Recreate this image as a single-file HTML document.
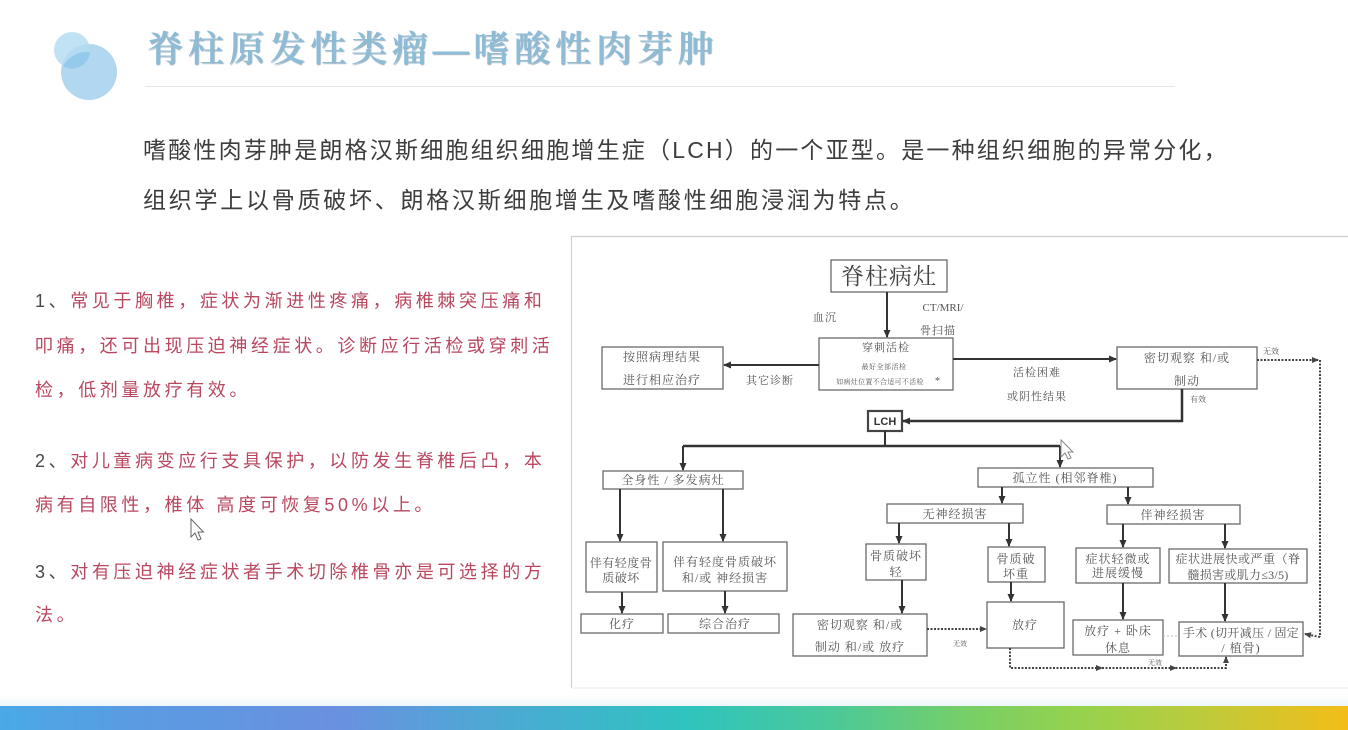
<!DOCTYPE html>
<html>
<head>
<meta charset="utf-8">
<style>
  html,body{margin:0;padding:0;}
  body{width:1348px;height:730px;position:relative;overflow:hidden;background:#fff;
       font-family:"Liberation Sans","Noto Sans CJK SC",sans-serif;}
  .abs{position:absolute;white-space:nowrap;}
  .title{left:147px;top:27px;font-size:36px;line-height:44px;letter-spacing:4.8px;
         font-family:"Liberation Serif","Noto Serif CJK SC",serif;font-weight:600;
         color:#8dbcd6;text-shadow:1px 1px 1px rgba(70,110,140,0.55);}
  .intro{left:143px;font-size:23px;line-height:28px;color:#3d3d3d;}
  .li{left:35px;font-size:18px;line-height:22px;letter-spacing:3.6px;color:#b8475f;}
  .li .n{color:#4a4a4a;}
  .bar{left:0;top:706px;width:1348px;height:24px;
       background:linear-gradient(to right,#4aa9e6 0%,#5a9be2 10%,#6a90e0 25%,#55a2d8 33%,#3fb4cc 43%,#2fc4be 51%,#4cc998 62%,#78cf66 72%,#96d24e 80%,#bccb3c 89%,#f3bd18 100%);}
  .glow{left:0;top:696px;width:1348px;height:10px;
        background:linear-gradient(to bottom,rgba(255,255,255,0),rgba(235,245,250,0.9));}
</style>
</head>
<body>

<!-- decorative circles -->
<svg class="abs" style="left:0;top:0" width="200" height="120">
  <circle cx="89" cy="72" r="28" fill="#a9d3f0" opacity="0.9"/>
  <circle cx="72" cy="50" r="18" fill="#b6dcf3" opacity="0.85"/>
  <path d="M63,66 A18,18 0 0 0 90,52 A28,28 0 0 0 63,66 Z" fill="#8cc5ea" opacity="0.8"/>
</svg>

<div class="abs title">脊柱原发性类瘤—嗜酸性肉芽肿</div>
<div class="abs" style="left:145px;top:86px;width:1030px;height:1px;background:#e6e6e6;"></div>

<div class="abs intro" style="top:136px;letter-spacing:2.2px;">嗜酸性肉芽肿是朗格汉斯细胞组织细胞增生症（LCH）的一个亚型。是一种组织细胞的异常分化，</div>
<div class="abs intro" style="top:186px;letter-spacing:2.75px;">组织学上以骨质破坏、朗格汉斯细胞增生及嗜酸性细胞浸润为特点。</div>

<div class="abs li" style="top:290px;"><span class="n">1、</span>常见于胸椎，症状为渐进性疼痛，病椎棘突压痛和</div>
<div class="abs li" style="top:335px;">叩痛，还可出现压迫神经症状。诊断应行活检或穿刺活</div>
<div class="abs li" style="top:379px;">检，低剂量放疗有效。</div>
<div class="abs li" style="top:450px;"><span class="n">2、</span>对儿童病变应行支具保护，以防发生脊椎后凸，本</div>
<div class="abs li" style="top:494px;">病有自限性，椎体 高度可恢复50%以上。</div>
<div class="abs li" style="top:561px;"><span class="n">3、</span>对有压迫神经症状者手术切除椎骨亦是可选择的方</div>
<div class="abs li" style="top:604px;">法。</div>

<div class="abs glow"></div>
<div class="abs bar"></div>

<svg class="abs" style="left:0;top:0" width="1348" height="730">
  <defs>
    <marker id="a" markerUnits="userSpaceOnUse" markerWidth="8" markerHeight="8" refX="7" refY="4" orient="auto">
      <path d="M0,0.5 L8,4 L0,7.5 z" fill="#333"/>
    </marker>
    <marker id="s" markerUnits="userSpaceOnUse" markerWidth="7" markerHeight="7" refX="6" refY="3.5" orient="auto">
      <path d="M0,0.5 L7,3.5 L0,6.5 z" fill="#444"/>
    </marker>
  </defs>

  <!-- cursor in left text -->
  <path d="M191,519 L191,537 L195,533 L198,540 L201,539 L198,532 L203.5,532 Z" fill="#fff" stroke="#666" stroke-width="1"/>

  <!-- flowchart frame -->
  <path d="M571.5,688 V236.5 H1348" stroke="#cfcfcf" stroke-width="1.2" fill="none"/>
  <line x1="571" y1="688" x2="1348" y2="688" stroke="#ececec" stroke-width="1"/>

  <g fill="#fff" stroke="#6a6a6a" stroke-width="1.3">
    <rect x="831" y="260" width="116" height="32"/>
    <rect x="819" y="338" width="134" height="52"/>
    <rect x="602" y="347" width="121" height="42"/>
    <rect x="1117" y="347" width="140" height="42"/>
    <rect x="868" y="411" width="34" height="20" stroke="#444" stroke-width="2.2"/>
    <rect x="603" y="471" width="140" height="18"/>
    <rect x="586" y="542" width="71" height="50"/>
    <rect x="663" y="542" width="124" height="49"/>
    <rect x="581" y="614" width="82" height="19"/>
    <rect x="668" y="614" width="111" height="19"/>
    <rect x="978" y="468" width="175" height="19"/>
    <rect x="887" y="504" width="136" height="19"/>
    <rect x="1107" y="505" width="133" height="19"/>
    <rect x="866" y="544" width="60" height="36"/>
    <rect x="988" y="547" width="57" height="35"/>
    <rect x="793" y="614" width="134" height="42"/>
    <rect x="987" y="602" width="77" height="46"/>
    <rect x="1076" y="548" width="84" height="35"/>
    <rect x="1169" y="549" width="138" height="34"/>
    <rect x="1073" y="620" width="90" height="35"/>
    <rect x="1179" y="622" width="124" height="34"/>
  </g>

  <!-- solid connectors -->
  <g stroke="#333" stroke-width="2" fill="none">
    <line x1="887" y1="292" x2="887" y2="337" marker-end="url(#a)"/>
    <line x1="819" y1="365" x2="724" y2="365" marker-end="url(#a)"/>
    <line x1="953" y1="359" x2="1116" y2="359" marker-end="url(#a)"/>
    <path d="M1182,389 V421 H903" stroke-width="2.5" marker-end="url(#a)"/>
    <line x1="885" y1="431" x2="885" y2="446"/>
    <line x1="683" y1="446" x2="1060" y2="446" stroke-width="2.5"/>
    <line x1="683" y1="446" x2="683" y2="470" marker-end="url(#a)"/>
    <line x1="1060" y1="446" x2="1060" y2="467" marker-end="url(#a)"/>
    <line x1="620" y1="489" x2="620" y2="541" marker-end="url(#a)"/>
    <line x1="723" y1="489" x2="723" y2="541" marker-end="url(#a)"/>
    <line x1="622" y1="592" x2="622" y2="613" marker-end="url(#a)"/>
    <line x1="725" y1="591" x2="725" y2="613" marker-end="url(#a)"/>
    <line x1="1002" y1="487" x2="1002" y2="503" marker-end="url(#a)"/>
    <line x1="1128" y1="487" x2="1128" y2="504" marker-end="url(#a)"/>
    <line x1="899" y1="523" x2="899" y2="543" marker-end="url(#a)"/>
    <line x1="1009" y1="523" x2="1009" y2="546" marker-end="url(#a)"/>
    <line x1="902" y1="580" x2="902" y2="613" marker-end="url(#a)"/>
    <line x1="1011" y1="582" x2="1011" y2="601" marker-end="url(#a)"/>
    <line x1="1123" y1="524" x2="1123" y2="547" marker-end="url(#a)"/>
    <line x1="1225" y1="524" x2="1225" y2="548" marker-end="url(#a)"/>
    <line x1="1123" y1="583" x2="1123" y2="619" marker-end="url(#a)"/>
    <line x1="1225" y1="583" x2="1225" y2="621" marker-end="url(#a)"/>
  </g>

  <!-- dotted connectors -->
  <g stroke="#444" stroke-width="2" fill="none" stroke-dasharray="2,1.5">
    <line x1="1257" y1="360" x2="1318" y2="360" marker-end="url(#s)"/>
    <line x1="1320" y1="360" x2="1320" y2="637"/>
    <line x1="1320" y1="637" x2="1305" y2="634" marker-end="url(#s)"/>
    <line x1="927" y1="629" x2="986" y2="629" marker-end="url(#s)"/>
    <path d="M1010,648 V668 H1226 V657" marker-end="url(#s)"/>
  </g>
  <g fill="#444">
    <path d="M1096,665 L1103,668 L1096,671 z"/>
    <path d="M1170,665 L1177,668 L1170,671 z"/>
  </g>
  <line x1="1163" y1="636" x2="1179" y2="636" stroke="#bbb" stroke-width="1" stroke-dasharray="2,2"/>

  <!-- cursor in flowchart -->
  <path d="M1061,440 L1061,457 L1065,453 L1068,459 L1071,458 L1068,452 L1073,452 Z" fill="#fff" stroke="#888" stroke-width="1"/>

  <!-- texts -->
  <g font-family="Liberation Serif, Noto Serif CJK SC, serif" fill="#555" text-anchor="middle" font-size="12" letter-spacing="1">
    <text x="889" y="284" font-size="23" fill="#444" letter-spacing="1">脊柱病灶</text>
    <text x="825" y="321" font-size="11">血沉</text>
    <text x="943" y="311" font-size="11" letter-spacing="0">CT/MRI/</text>
    <text x="938" y="334" font-size="11">骨扫描</text>
    <text x="886" y="351" font-size="11">穿刺活检</text>
    <text x="884" y="369" font-size="7" letter-spacing="0.5">最好全部活检</text>
    <text x="880" y="384" font-size="7" letter-spacing="0.3">如病灶位置不合适可不活检</text>
    <text x="938" y="384" font-size="10">*</text>
    <text x="662" y="361">按照病理结果</text>
    <text x="662" y="384">进行相应治疗</text>
    <text x="770" y="384" font-size="11">其它诊断</text>
    <text x="1037" y="376" font-size="11">活检困难</text>
    <text x="1037" y="400" font-size="11">或阴性结果</text>
    <text x="1187" y="362">密切观察 和/或</text>
    <text x="1187" y="385">制动</text>
    <text x="1271" y="354" font-size="8" letter-spacing="0">无效</text>
    <text x="1198" y="402" font-size="8" letter-spacing="0">有效</text>
    <text x="885" y="425" font-size="11" font-family="Liberation Sans, sans-serif" font-weight="bold" fill="#333" letter-spacing="0">LCH</text>
    <text x="673" y="484">全身性 / 多发病灶</text>
    <text x="621" y="567" letter-spacing="0.5">伴有轻度骨</text>
    <text x="621" y="582" letter-spacing="0.5">质破坏</text>
    <text x="725" y="566">伴有轻度骨质破坏</text>
    <text x="725" y="582">和/或 神经损害</text>
    <text x="622" y="628">化疗</text>
    <text x="725" y="628">综合治疗</text>
    <text x="1065" y="482">孤立性 (相邻脊椎)</text>
    <text x="955" y="518">无神经损害</text>
    <text x="1173" y="519">伴神经损害</text>
    <text x="896" y="560">骨质破坏</text>
    <text x="896" y="576">轻</text>
    <text x="1016" y="563">骨质破</text>
    <text x="1016" y="578">坏重</text>
    <text x="860" y="629">密切观察 和/或</text>
    <text x="860" y="651">制动 和/或 放疗</text>
    <text x="960" y="646" font-size="7" letter-spacing="0">无效</text>
    <text x="1025" y="629">放疗</text>
    <text x="1118" y="563">症状轻微或</text>
    <text x="1118" y="577">进展缓慢</text>
    <text x="1238" y="563" letter-spacing="0.5">症状进展快或严重（脊</text>
    <text x="1238" y="579" letter-spacing="0.3">髓损害或肌力≤3/5)</text>
    <text x="1118" y="635">放疗 + 卧床</text>
    <text x="1118" y="652">休息</text>
    <text x="1241" y="637" letter-spacing="0.3">手术 (切开减压 / 固定</text>
    <text x="1241" y="652">/ 植骨)</text>
    <text x="1155" y="665" font-size="7" letter-spacing="0">无效</text>
  </g>
</svg>

</body>
</html>
